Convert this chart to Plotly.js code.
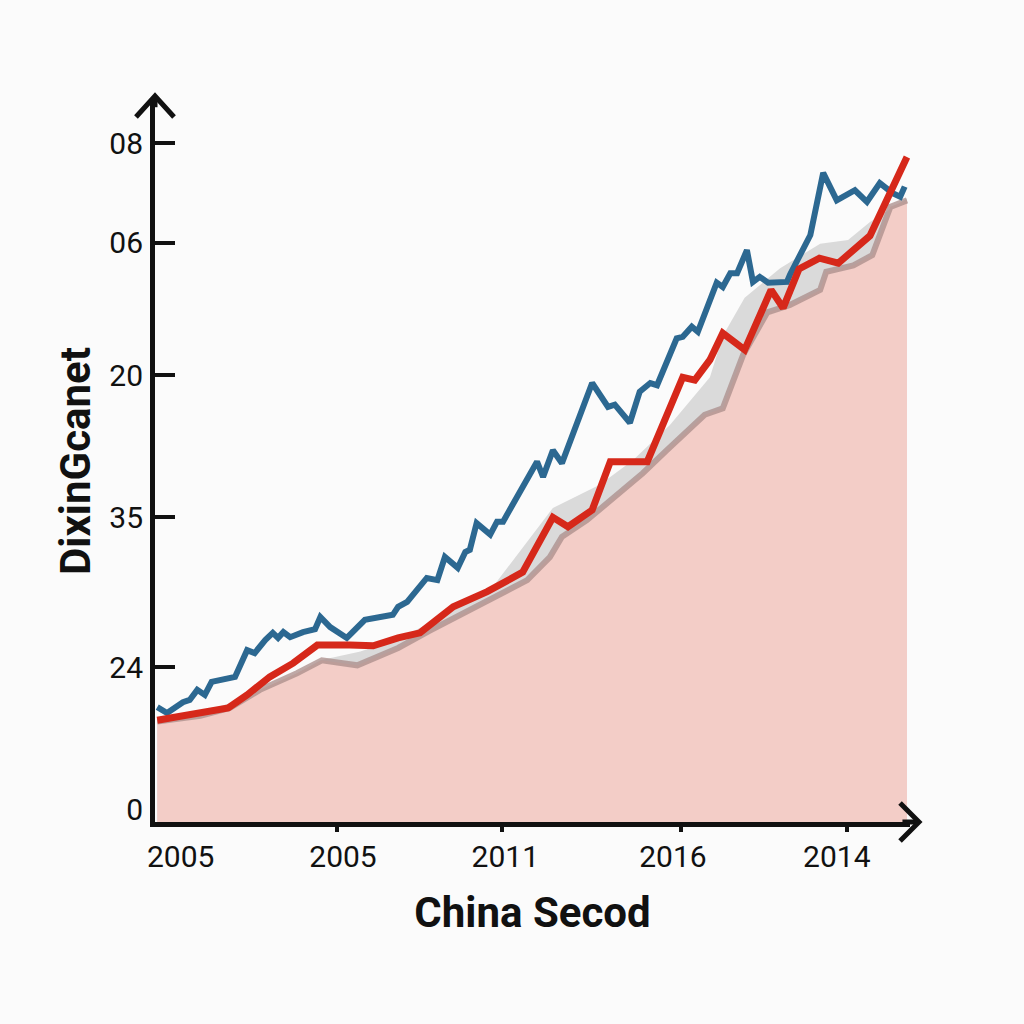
<!DOCTYPE html>
<html>
<head>
<meta charset="utf-8">
<script src="https://cdn.plot.ly/plotly-3.0.1.min.js"></script>
<style>
  html, body { margin: 0; padding: 0; background: #fbfbfb; }
  #chart { width: 1024px; height: 1024px; }
</style>
</head>
<body>
<div id="chart"></div>
<script>
// ---- Data ----
const xTickLabels = ['2005', '2005', '2011', '2016', '2014'];
const xLabelPos   = [3.4, 24.9, 46.4, 68.6, 90.3];
const xTickMarks  = [24.1, 46.0, 69.7, 91.7];

const yTickLabels = ['08', '06', '20', '35', '24', '0'];
const yLabelPos   = [94.0, 80.2, 61.9, 42.2, 21.4, 1.7];
const yTickMarks  = [94.1, 80.2, 61.9, 42.2, 21.5];

const blueX = [0.3, 1.6, 3.7, 4.6, 5.6, 6.6, 7.5, 8.6, 10.6, 12.2, 13.2, 14.6, 15.6, 16.3, 17.0, 17.9, 19.6, 21.2, 21.9, 23.2,
  25.4, 27.8, 31.5, 32.2, 33.4, 36.0, 37.4, 38.4, 40.1, 41.1, 41.7, 42.6, 44.4, 45.3, 46.1, 50.6, 51.4, 52.7, 53.9, 57.9,
  60.0, 60.9, 62.9, 64.2, 65.6, 66.5, 69.1, 69.9, 71.1, 71.9, 74.4, 75.2, 76.2, 77.1, 78.4, 79.2, 80.1, 81.2, 83.7, 84.1,
  86.8, 88.5, 90.3, 92.7, 94.3, 96.0, 97.7, 98.7, 99.3];
const blueY = [15.9, 15.1, 16.6, 16.9, 18.3, 17.6, 19.4, 19.7, 20.1, 23.8, 23.4, 25.2, 26.2, 25.5, 26.3, 25.6, 26.3, 26.7, 28.4, 27.0,
  25.5, 28.0, 28.7, 29.8, 30.5, 33.8, 33.5, 36.7, 35.2, 37.4, 37.7, 41.4, 39.8, 41.6, 41.6, 49.9, 47.8, 51.5, 49.7, 60.8,
  57.5, 57.8, 55.3, 59.6, 60.8, 60.5, 67.0, 67.2, 68.6, 67.9, 74.7, 74.1, 76.0, 76.0, 79.2, 74.8, 75.5, 74.7, 74.8, 75.8,
  81.3, 89.9, 86.1, 87.5, 85.9, 88.5, 87.1, 86.6, 88.0];

const redX = [0.3, 5.0, 9.7, 12.2, 15.2, 18.3, 21.5, 25.8, 28.9, 32.2, 35.1, 39.5, 44.0, 48.7, 52.7, 54.7, 57.9, 60.3, 65.2, 69.9,
  71.5, 73.5, 75.2, 78.1, 81.6, 83.2, 85.3, 88.0, 90.5, 94.7, 99.6];
const redY = [14.1, 15.0, 15.8, 17.6, 20.1, 22.0, 24.5, 24.5, 24.4, 25.5, 26.2, 29.8, 31.9, 34.6, 42.2, 40.9, 43.2, 49.9, 49.9, 61.6,
  61.2, 64.0, 67.7, 65.4, 73.7, 71.2, 76.6, 78.1, 77.4, 81.2, 92.1];

const areaX = [0.3, 6.0, 9.9, 13.9, 18.8, 22.1, 26.8, 32.2, 36.4, 43.0, 49.3, 52.3, 53.9, 57.2, 61.6, 64.6, 67.8, 70.5, 72.8, 75.2,
  77.9, 81.1, 84.1, 88.1, 88.9, 92.5, 95.0, 97.4, 99.6];
const areaY = [13.9, 14.7, 15.8, 18.3, 20.6, 22.4, 21.7, 24.1, 26.5, 30.2, 33.5, 36.7, 39.5, 41.8, 45.6, 48.3, 51.5, 54.3, 56.4, 57.3,
  64.7, 70.6, 71.6, 73.7, 76.2, 77.1, 78.5, 85.2, 86.1];

const bandX = [0.3, 6.0, 11.3, 16.6, 21.9, 27.2, 32.5, 37.7, 44.4, 52.7, 58.9, 63.3, 68.2, 73.5, 75.2, 78.1, 82.8, 88.1, 91.8, 94.7, 99.6];
const bandY = [14.4, 15.2, 16.9, 19.3, 22.4, 23.6, 25.5, 28.3, 32.1, 43.5, 46.7, 50.1, 55.0, 61.6, 67.3, 72.6, 76.7, 80.1, 80.6, 83.1, 86.4];

// ---- Traces ----
const traces = [
  { x: bandX, y: bandY, type: 'scatter', mode: 'lines', fill: 'tozeroy',
    fillcolor: '#dadada', line: { width: 0, color: '#dadada' }, hoverinfo: 'skip', showlegend: false },
  { x: areaX, y: areaY, type: 'scatter', mode: 'lines', fill: 'tozeroy',
    fillcolor: '#f3cdc7', line: { width: 6, color: 'rgba(170,140,138,0.75)' }, showlegend: false },
  { x: blueX, y: blueY, type: 'scatter', mode: 'lines',
    line: { width: 6, color: '#2c6891' }, showlegend: false },
  { x: redX, y: redY, type: 'scatter', mode: 'lines',
    line: { width: 7, color: '#d6281a' }, showlegend: false },
  { x: [], y: [], xaxis: 'x2', yaxis: 'y2', type: 'scatter', mode: 'lines', showlegend: false, hoverinfo: 'skip' }
];

const tickFont = { family: 'Roboto, "Liberation Sans", sans-serif', size: 30, color: '#111' };
const titleFont = { family: 'Roboto, "Liberation Sans", sans-serif', size: 42, color: '#111', weight: 'bold' };

const layout = {
  width: 1024, height: 1024,
  margin: { l: 155, r: 114, t: 100, b: 202 },
  paper_bgcolor: '#fbfbfb', plot_bgcolor: '#fbfbfb',
  showlegend: false,
  xaxis: {
    range: [0, 100], tickmode: 'array', tickvals: xLabelPos, ticktext: xTickLabels,
    ticks: '', showgrid: false, zeroline: false,
    showline: true, linewidth: 5, linecolor: '#111',
    tickfont: tickFont, ticklabelstandoff: 4,
    title: { text: 'China Secod', font: titleFont, standoff: 26 }
  },
  yaxis: {
    range: [0, 100], tickmode: 'array', tickvals: yLabelPos, ticktext: yTickLabels,
    ticks: '', showgrid: false, zeroline: false,
    showline: true, linewidth: 5, linecolor: '#111',
    tickfont: tickFont, ticklabelstandoff: 1,
    title: { text: 'DixinGcanet', font: titleFont, standoff: 7 }
  },
  xaxis2: {
    overlaying: 'x', anchor: 'y2', side: 'bottom', range: [0, 100],
    tickmode: 'array', tickvals: xTickMarks, showticklabels: false,
    ticks: 'outside', ticklen: 9, tickwidth: 4, tickcolor: '#111',
    showgrid: false, zeroline: false, showline: false
  },
  yaxis2: {
    overlaying: 'y', anchor: 'x2', side: 'left', range: [0, 100],
    tickmode: 'array', tickvals: yTickMarks, showticklabels: false,
    ticks: 'inside', ticklen: 20, tickwidth: 4, tickcolor: '#111',
    showgrid: false, zeroline: false, showline: false
  },
  shapes: [
    // y axis arrow
    { type: 'line', xref: 'paper', yref: 'paper', x0: 0, x1: 0, y0: 0.99, y1: 1.0055,
      line: { color: '#111', width: 5 }, layer: 'above' },
    { type: 'path', xref: 'paper', yref: 'paper', path: 'M -0.0252,0.9765 L 0,1.0055 L 0.0252,0.9765',
      line: { color: '#111', width: 5 }, layer: 'above' },
    // x axis arrow
    { type: 'line', xref: 'paper', yref: 'paper', x0: 0.99, x1: 1.0119, y0: 0, y1: 0,
      line: { color: '#111', width: 5 }, layer: 'above' },
    { type: 'path', xref: 'paper', yref: 'paper', path: 'M 0.9868,0.0263 L 1.0119,0 L 0.9868,-0.0263',
      line: { color: '#111', width: 5 }, layer: 'above' }
  ]
};

Plotly.newPlot('chart', traces, layout, { displayModeBar: false, staticPlot: true });
</script>
</body>
</html>
